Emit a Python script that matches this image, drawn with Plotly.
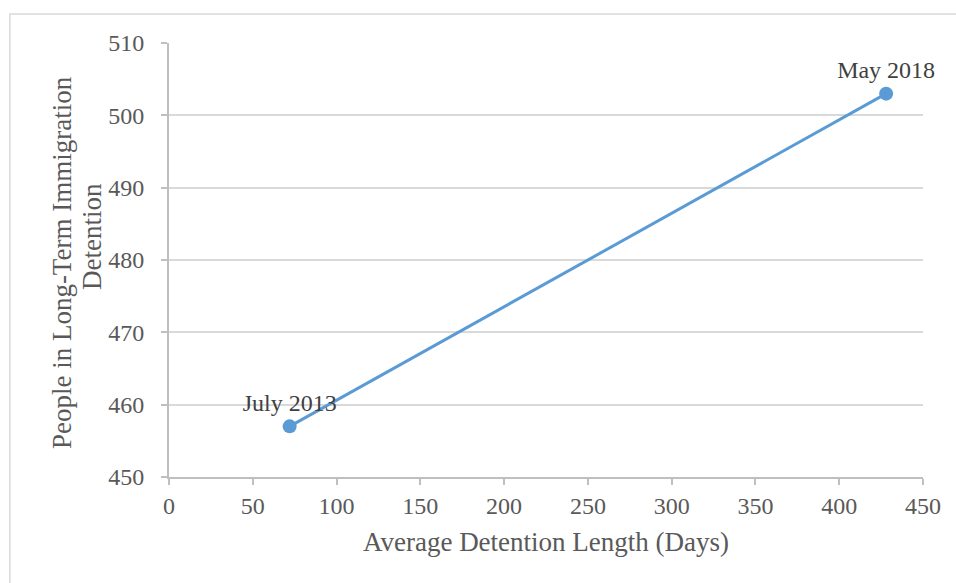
import plotly.graph_objects as go

# Average detention length (days) vs. people in long-term immigration detention
days = [72, 428]
people = [457, 503]
point_labels = ["July 2013", "May 2018"]

x_ticks = [0, 50, 100, 150, 200, 250, 300, 350, 400, 450]
y_ticks = [450, 460, 470, 480, 490, 500, 510]
y_title_lines = ["People in Long-Term Immigration", "Detention"]

FONT = "Liberation Serif"
LINE_COLOR = "#5b9bd5"
AXIS_TEXT = "#595959"

fig = go.Figure()
fig.add_trace(go.Scatter(
    x=days, y=people,
    mode="lines+markers+text",
    text=point_labels,
    textposition="top center",
    textfont=dict(family=FONT, size=24, color="#404040"),
    line=dict(color=LINE_COLOR, width=3),
    marker=dict(color=LINE_COLOR, size=14),
    cliponaxis=False,
    showlegend=False,
))

# two-line rotated y-axis title, one annotation per line
for line_text, xpos, ypos in zip(y_title_lines, [-0.142, -0.102], [0.495, 0.553]):
    fig.add_annotation(
        text=line_text, textangle=-90,
        xref="paper", yref="paper", x=xpos, y=ypos,
        xanchor="center", yanchor="middle", showarrow=False,
        font=dict(family=FONT, size=27, color=AXIS_TEXT),
    )

fig.update_layout(
    width=956, height=583,
    margin=dict(l=169, r=33, t=43, b=106),
    paper_bgcolor="white", plot_bgcolor="white",
    font=dict(family=FONT, color=AXIS_TEXT, size=24),
    xaxis=dict(
        range=[0, 450], tickvals=x_ticks, ticktext=[str(v) for v in x_ticks],
        showgrid=False, zeroline=False,
        showline=True, linecolor="#bfbfbf", linewidth=2,
        ticks="outside", ticklen=6, tickcolor="#bfbfbf", tickwidth=2,
        ticklabelstandoff=0,
        tickfont=dict(family=FONT, size=24, color=AXIS_TEXT),
        title=dict(text="Average Detention Length (Days)", standoff=14,
                   font=dict(family=FONT, size=27, color=AXIS_TEXT)),
    ),
    yaxis=dict(
        range=[450, 510], tickvals=y_ticks, ticktext=[str(v) for v in y_ticks],
        showgrid=True, gridcolor="#d9d9d9", gridwidth=2, zeroline=False,
        showline=True, linecolor="#bfbfbf", linewidth=2,
        ticks="outside", ticklen=6, tickcolor="#bfbfbf", tickwidth=2,
        ticklabelstandoff=12,
        tickfont=dict(family=FONT, size=24, color=AXIS_TEXT),
    ),
    shapes=[dict(
        type="rect", xref="paper", yref="paper",
        x0=-0.211, x1=1.06, y0=-0.3, y1=1.0668,
        line=dict(color="#d9d9d9", width=1.5), fillcolor="rgba(0,0,0,0)",
        layer="below",
    )],
)

fig.write_html("out.html")
